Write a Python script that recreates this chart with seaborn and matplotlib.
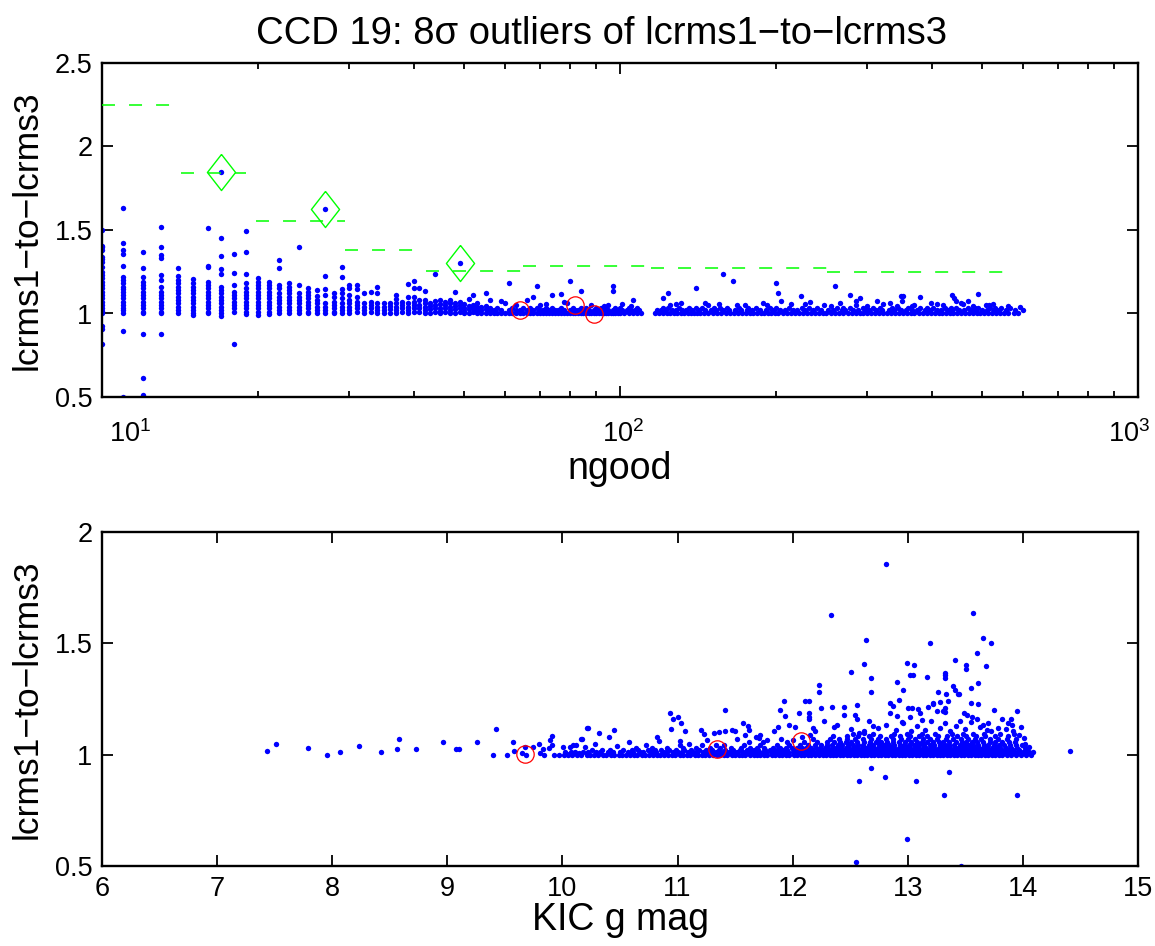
import matplotlib
matplotlib.use("Agg")
import matplotlib.pyplot as plt
import matplotlib.transforms as mtransforms
import numpy as np
import pandas as pd
import seaborn as sns
from matplotlib.ticker import FixedLocator, FixedFormatter, LogLocator, NullFormatter

# ---------------- upper panel: ratio against ngood ----------------
# discrete ngood columns (one list of ratios per ngood value)
col_ngood = list(range(10, 57))
col_ratio = [
    [1.50, 1.405, 1.397, 1.38, 1.34, 1.325, 1.31, 1.28, 1.25, 1.23, 1.21, 1.19, 1.17, 1.15, 1.13, 1.11, 1.09, 1.07, 1.05, 1.03, 1.015, 1.00, 0.925, 0.91, 0.815],
    [1.63, 1.42, 1.38, 1.355, 1.285, 1.22, 1.20, 1.18, 1.16, 1.145, 1.13, 1.11, 1.09, 1.07, 1.05, 1.035, 1.02, 1.005, 0.895, 0.50],
    [1.366, 1.27, 1.22, 1.19, 1.17, 1.15, 1.13, 1.11, 1.09, 1.07, 1.05, 1.03, 1.01, 1.00, 0.875, 0.616, 0.512],
    [1.516, 1.40, 1.35, 1.335, 1.23, 1.20, 1.16, 1.13, 1.11, 1.09, 1.07, 1.05, 1.03, 1.01, 1.00, 0.875],
    [1.27, 1.225, 1.20, 1.18, 1.16, 1.14, 1.12, 1.10, 1.08, 1.06, 1.04, 1.02, 1.00],
    [1.205, 1.18, 1.16, 1.14, 1.12, 1.10, 1.08, 1.06, 1.04, 1.02, 1.00, 0.99],
    [1.51, 1.285, 1.277, 1.19, 1.17, 1.15, 1.13, 1.11, 1.09, 1.07, 1.05, 1.03, 1.01, 1.00],
    [1.847, 1.45, 1.345, 1.265, 1.235, 1.16, 1.14, 1.12, 1.10, 1.08, 1.06, 1.04, 1.02, 1.00, 0.985],
    [1.354, 1.24, 1.17, 1.13, 1.11, 1.09, 1.07, 1.05, 1.03, 1.01, 0.815],
    [1.496, 1.366, 1.235, 1.18, 1.15, 1.13, 1.11, 1.09, 1.07, 1.05, 1.03, 1.01, 0.995],
    [1.21, 1.19, 1.17, 1.15, 1.13, 1.11, 1.09, 1.07, 1.05, 1.03, 1.01, 0.99],
    [1.19, 1.17, 1.15, 1.13, 1.11, 1.09, 1.07, 1.05, 1.03, 1.01, 0.995],
    [1.32, 1.273, 1.17, 1.15, 1.12, 1.10, 1.08, 1.06, 1.04, 1.02, 1.00],
    [1.18, 1.16, 1.14, 1.12, 1.10, 1.08, 1.06, 1.04, 1.02, 1.00],
    [1.40, 1.17, 1.12, 1.10, 1.08, 1.06, 1.04, 1.02, 1.00],
    [1.15, 1.13, 1.11, 1.09, 1.07, 1.05, 1.03, 1.01, 1.00],
    [1.14, 1.105, 1.08, 1.06, 1.04, 1.02, 1.00],
    [1.624, 1.227, 1.147, 1.11, 1.06, 1.04, 1.02, 1.00],
    [1.12, 1.10, 1.07, 1.05, 1.03, 1.01, 1.00],
    [1.277, 1.22, 1.145, 1.12, 1.09, 1.06, 1.04, 1.02, 1.00],
    [1.17, 1.15, 1.11, 1.08, 1.06, 1.04, 1.02, 1.00],
    [1.171, 1.145, 1.10, 1.07, 1.05, 1.03, 1.01],
    [1.12, 1.06, 1.04, 1.02, 1.00],
    [1.13, 1.07, 1.05, 1.03, 1.01],
    [1.157, 1.12, 1.06, 1.04, 1.02, 1.00],
    [1.06, 1.04, 1.02, 1.00],
    [1.065, 1.045, 1.025, 1.005],
    [1.11, 1.085, 1.06, 1.04, 1.02, 1.00],
    [1.07, 1.05, 1.03, 1.01],
    [1.177, 1.10, 1.06, 1.04, 1.02, 1.00],
    [1.195, 1.155, 1.10, 1.07, 1.05, 1.03, 1.01],
    [1.15, 1.08, 1.05, 1.03, 1.01],
    [1.137, 1.08, 1.06, 1.04, 1.02, 1.00],
    [1.065, 1.045, 1.025, 1.005],
    [1.237, 1.075, 1.05, 1.03, 1.01],
    [1.08, 1.055, 1.035, 1.015, 1.00],
    [1.07, 1.05, 1.03, 1.01],
    [1.08, 1.06, 1.04, 1.02, 1.00],
    [1.131, 1.065, 1.045, 1.025, 1.005],
    [1.305, 1.07, 1.05, 1.03, 1.01],
    [1.055, 1.035, 1.015, 1.00],
    [1.085, 1.045, 1.025, 1.005],
    [1.11, 1.05, 1.03, 1.01],
    [1.065, 1.04, 1.02, 1.00],
    [1.04, 1.02, 1.005],
    [1.121, 1.045, 1.025, 1.005],
    [1.08, 1.035, 1.015, 1.00],
]

# well-populated ngood range: stars sitting in three ratio layers
top_row_levels = [1.004, 1.019, 1.035]
top_row_ngood = [
    [57, 58, 59, 60, 61, 62, 63, 64, 65, 66, 67, 68, 69, 70, 71, 72, 73, 74, 75, 76, 77, 78, 79, 80,
     81, 82, 83, 84, 85, 86, 87, 88, 89, 90, 91, 92, 93, 94, 95, 96, 97, 98, 99, 100, 102, 104, 106,
     108, 110, 117, 119, 121, 123, 125, 127, 129, 131, 133, 135, 137, 139, 141, 143, 145, 148, 151,
     154, 157, 160, 163, 166, 169, 172, 175, 178, 181, 184, 187, 190, 193, 196, 199, 202, 206, 210,
     214, 218, 222, 226, 230, 234, 238, 242, 246, 250, 255, 260, 265, 270, 275, 280, 285, 290, 295,
     300, 305, 310, 316, 322, 328, 334, 340, 346, 352, 358, 364, 370, 377, 384, 391, 398, 405, 412,
     419, 426, 433, 440, 448, 456, 464, 472, 480, 488, 496, 505, 514, 523, 532, 541, 550, 562, 575,
     587],
    [57, 59, 61, 63, 64, 66, 68, 70, 71, 73, 75, 76, 78, 80, 82, 83, 85, 87, 89, 91, 93, 95, 97, 99,
     101, 103, 105, 107, 109, 118, 120, 122, 126, 128, 132, 134, 138, 142, 146, 150, 153, 158, 162,
     167, 171, 176, 180, 186, 191, 197, 204, 208, 216, 220, 228, 236, 244, 252, 258, 268, 272, 282,
     288, 298, 302, 312, 320, 330, 338, 348, 356, 366, 374, 388, 396, 410, 416, 430, 438, 452, 462,
     476, 486, 500, 510, 528, 538, 556, 580],
    [58, 62, 65, 67, 69, 72, 74, 77, 81, 84, 86, 90, 92, 94, 98, 100, 104, 108, 121, 124, 130, 136,
     140, 144, 152, 156, 161, 170, 177, 183, 195, 200, 212, 225, 232, 240, 262, 270, 278, 294, 308,
     318, 335, 344, 360, 380, 392, 402, 424, 436, 445, 470, 484, 492, 518, 530, 545, 566],
]

# individual stars above the main band
top_extra_ngood = [61, 69, 68, 66, 74, 77, 80, 84, 97, 97, 106, 121, 124, 140, 158, 165, 200, 202,
                   205, 224, 233, 260, 278, 285, 290, 314, 348, 352, 350, 380, 398, 437, 442, 446,
                   470, 490, 508, 59, 63, 72, 79, 88, 93, 101, 125, 131, 148, 155, 174, 189, 214,
                   248, 266, 300, 322, 342, 370, 410, 455, 480, 525, 560, 592, 600,
                   60, 70, 78, 95, 105, 128, 146, 168, 192, 228, 256, 286, 332, 366, 420, 460, 515]
top_extra_ratio = [1.181, 1.165, 1.10, 1.08, 1.111, 1.117, 1.197, 1.137, 1.167, 1.137, 1.081, 1.091,
                   1.125, 1.151, 1.235, 1.195, 1.18, 1.125, 1.077, 1.103, 1.071, 1.165, 1.111, 1.077,
                   1.093, 1.075, 1.103, 1.103, 1.077, 1.10, 1.065, 1.11, 1.093, 1.077, 1.073, 1.115,
                   1.05, 1.075, 1.05, 1.055, 1.06, 1.05, 1.045, 1.055, 1.05, 1.06, 1.048, 1.057,
                   1.05, 1.06, 1.057, 1.05, 1.06, 1.045, 1.055, 1.042, 1.05, 1.057, 1.06, 1.045,
                   1.055, 1.045, 1.04, 1.02,
                   1.065, 1.048, 1.07, 1.052, 1.046, 1.055, 1.062, 1.048, 1.05, 1.058, 1.047,
                   1.052, 1.06, 1.046, 1.05, 1.054, 1.048]

# 8-sigma outliers (diamonds) and highlighted stars (circles)
flag_ngood = [17, 27, 49]
flag_ratio = [1.847, 1.624, 1.305]
circ_top_ngood = [64, 82, 89]
circ_top_ratio = [1.021, 1.053, 0.995]

# outlier thresholds per ngood bin
thr_lo = [10, 14.2, 19.8, 29.5, 42.3, 64.9, 115, 251]
thr_hi = [13.6, 19.0, 29.5, 40.2, 64.4, 112.6, 251, 553]
thr_val = [2.25, 1.84, 1.555, 1.378, 1.255, 1.286, 1.27, 1.25]

# ---------------- lower panel: ratio against KIC g magnitude ----------------
bot_row_levels = [1.000, 1.010, 1.020, 1.031, 1.043, 1.056, 1.069, 1.082, 1.095]
bot_row_mag = [
    [9.97, 10.01, 10.05, 10.08, 10.13, 10.16, 10.21, 10.24, 10.27, 10.31, 10.35, 10.38, 10.42, 10.45,
     10.49, 10.52, 10.55, 10.59, 10.62, 10.65, 10.69, 10.72, 10.75, 10.79, 10.82, 10.85, 10.88, 10.92,
     10.95, 10.98, 11.02, 11.05, 11.08, 11.11, 11.15, 11.18, 11.21, 11.24, 11.27, 11.31, 11.34, 11.37,
     11.40, 11.43, 11.47, 11.50, 11.53, 11.56, 11.59, 11.63, 11.66, 11.69, 11.72, 11.75, 11.78, 11.82,
     11.85, 11.88, 11.91, 11.94, 11.97, 12.01, 12.04, 12.07, 12.10, 12.13, 12.16, 12.19, 12.23, 12.26,
     12.29, 12.32, 12.35, 12.38, 12.41, 12.44, 12.47, 12.50, 12.53, 12.56, 12.59, 12.62, 12.65, 12.68,
     12.71, 12.74, 12.77, 12.80, 12.83, 12.86, 12.89, 12.92, 12.95, 12.98, 13.01, 13.04, 13.07, 13.10,
     13.13, 13.16, 13.19, 13.22, 13.25, 13.28, 13.31, 13.34, 13.37, 13.40, 13.43, 13.46, 13.49, 13.52,
     13.55, 13.58, 13.61, 13.64, 13.67, 13.70, 13.73, 13.76, 13.79, 13.82, 13.86, 13.90, 13.94, 13.98,
     14.03, 14.07],
    [10.02, 10.07, 10.11, 10.18, 10.22, 10.29, 10.33, 10.40, 10.44, 10.50, 10.57, 10.61, 10.67, 10.70,
     10.77, 10.81, 10.87, 10.90, 10.96, 11.00, 11.04, 11.09, 11.13, 11.17, 11.22, 11.26, 11.29, 11.33,
     11.38, 11.42, 11.45, 11.49, 11.52, 11.57, 11.61, 11.64, 11.68, 11.71, 11.74, 11.77, 11.81, 11.84,
     11.87, 11.90, 11.93, 11.96, 12.00, 12.03, 12.06, 12.09, 12.12, 12.15, 12.18, 12.21, 12.24, 12.27,
     12.30, 12.33, 12.36, 12.39, 12.42, 12.45, 12.48, 12.51, 12.54, 12.57, 12.60, 12.63, 12.66, 12.69,
     12.72, 12.75, 12.78, 12.81, 12.84, 12.87, 12.90, 12.93, 12.96, 12.99, 13.02, 13.05, 13.08, 13.11,
     13.14, 13.17, 13.20, 13.23, 13.26, 13.29, 13.32, 13.35, 13.38, 13.41, 13.44, 13.47, 13.50, 13.53,
     13.56, 13.59, 13.62, 13.65, 13.68, 13.71, 13.74, 13.77, 13.81, 13.84, 13.88, 13.92, 13.96, 14.00,
     14.05, 14.09],
    [10.26, 10.34, 10.41, 10.53, 10.60, 10.66, 10.74, 10.80, 10.86, 10.93, 10.99, 11.06, 11.12, 11.19,
     11.25, 11.30, 11.36, 11.41, 11.48, 11.54, 11.60, 11.66, 11.70, 11.76, 11.80, 11.86, 11.92, 11.95,
     12.02, 12.05, 12.10, 12.14, 12.17, 12.22, 12.25, 12.29, 12.33, 12.37, 12.40, 12.44, 12.47, 12.51,
     12.55, 12.58, 12.62, 12.65, 12.69, 12.72, 12.76, 12.79, 12.83, 12.86, 12.90, 12.93, 12.97, 13.00,
     13.04, 13.07, 13.11, 13.14, 13.18, 13.21, 13.25, 13.28, 13.32, 13.35, 13.39, 13.42, 13.46, 13.49,
     13.53, 13.56, 13.60, 13.63, 13.67, 13.70, 13.74, 13.78, 13.82, 13.87, 13.91, 13.97, 14.03],
    [10.64, 10.78, 10.91, 11.05, 11.16, 11.28, 11.37, 11.46, 11.55, 11.63, 11.69, 11.75, 11.83, 11.89,
     11.94, 11.99, 12.04, 12.08, 12.12, 12.16, 12.20, 12.24, 12.28, 12.31, 12.35, 12.38, 12.42, 12.46,
     12.49, 12.53, 12.56, 12.60, 12.64, 12.67, 12.71, 12.74, 12.78, 12.81, 12.85, 12.88, 12.92, 12.95,
     12.99, 13.02, 13.06, 13.09, 13.13, 13.16, 13.20, 13.23, 13.27, 13.30, 13.34, 13.37, 13.41, 13.44,
     13.48, 13.51, 13.55, 13.58, 13.62, 13.65, 13.69, 13.73, 13.77, 13.80, 13.85, 13.90, 13.95, 14.02],
    [11.02, 11.21, 11.40, 11.58, 11.72, 11.86, 11.97, 12.06, 12.13, 12.19, 12.25, 12.30, 12.34, 12.39,
     12.43, 12.48, 12.52, 12.57, 12.61, 12.66, 12.70, 12.75, 12.79, 12.84, 12.88, 12.93, 12.97, 13.01,
     13.05, 13.10, 13.14, 13.19, 13.23, 13.28, 13.32, 13.36, 13.40, 13.45, 13.49, 13.53, 13.57, 13.61,
     13.66, 13.70, 13.75, 13.79, 13.84, 13.89, 13.94, 13.99],
    [11.74, 11.95, 12.10, 12.21, 12.30, 12.36, 12.41, 12.46, 12.51, 12.56, 12.62, 12.67, 12.72, 12.77,
     12.82, 12.87, 12.92, 12.98, 13.03, 13.08, 13.12, 13.17, 13.22, 13.27, 13.31, 13.36, 13.42, 13.47,
     13.51, 13.56, 13.60, 13.65, 13.71, 13.76, 13.82, 13.88, 13.93],
    [12.18, 12.32, 12.40, 12.47, 12.54, 12.61, 12.68, 12.74, 12.81, 12.87, 12.94, 13.00, 13.06, 13.13,
     13.19, 13.25, 13.33, 13.39, 13.46, 13.52, 13.58, 13.64, 13.71, 13.78, 13.86, 13.94],
    [12.35, 12.47, 12.57, 12.66, 12.76, 12.85, 12.93, 13.02, 13.10, 13.17, 13.26, 13.34, 13.43, 13.51,
     13.59, 13.67, 13.76, 13.87],
    [12.52, 12.70, 12.88, 12.99, 13.12, 13.24, 13.38, 13.48, 13.57, 13.66, 13.80, 13.92],
]

# individual stars: bright end, scatter above the band and low outliers
bot_extra_mag = [
    7.436, 7.509, 7.793, 7.952, 8.071, 8.233, 8.421, 8.578, 8.566, 8.728, 8.960, 9.073, 9.102, 9.258,
    9.40, 9.426, 9.519, 9.574, 9.58, 9.646, 9.675, 9.68, 9.74, 9.80, 9.805, 9.829, 9.887, 9.892, 9.91,
    9.907, 9.93, 9.84, 10.002, 10.037, 10.066, 10.095, 10.089, 10.147, 10.161, 10.196, 10.216, 10.216,
    10.22, 10.448, 10.32, 10.167, 10.407, 10.825, 10.935, 10.96, 11.0, 11.03, 10.94, 11.067, 11.2,
    11.233, 11.32, 11.363, 11.415, 11.415, 11.47, 11.5, 11.572, 11.614, 11.62, 11.59, 11.72, 11.71,
    11.841, 11.87, 11.891, 11.929, 11.93, 11.97, 12.02, 12.056, 12.11, 12.14, 12.14, 12.14, 12.14,
    12.18, 12.19, 12.226, 12.23, 12.336, 12.25, 12.27,
    12.814, 13.564, 12.64, 13.196, 13.65, 13.723, 13.605, 13.683, 13.414, 13.504, 13.51, 12.623,
    12.507, 12.681, 12.684, 12.997, 13.052, 13.023, 13.043, 13.163, 12.907, 12.959, 13.322, 13.322,
    13.325, 13.39, 13.41, 13.434, 13.445, 13.549, 13.61, 13.261, 13.333, 13.35, 12.846, 12.875,
    12.924, 13.22, 13.278, 13.25, 13.307, 13.549, 13.61, 13.747, 13.947, 14.013, 14.41, 12.34,
    12.448, 12.448, 12.555, 12.545, 12.56, 12.667, 12.36, 12.383, 12.505, 12.572, 12.62, 13.0,
    13.04, 13.087, 13.18, 13.22, 13.32, 13.32, 13.49, 13.512, 13.556, 13.6, 13.65, 13.686, 13.817,
    13.875, 13.904, 13.918, 12.846, 12.904, 12.962, 13.107, 13.121, 13.02,
    12.62, 12.74, 12.9, 13.03, 13.08, 13.15, 13.28, 13.37, 13.42, 13.5, 13.55, 13.63, 13.72, 13.78,
    13.85, 12.81, 12.95, 13.2, 13.45, 13.7, 13.32, 12.7, 13.97, 14.02, 14.05, 13.98, 13.9,
    10.12, 10.28, 10.47, 10.58, 10.73, 10.84, 11.02, 11.1, 11.26, 11.33, 11.52, 11.62, 11.78, 11.9,
    12.0, 12.08, 11.68, 12.15,
    12.681, 12.58, 12.8, 13.072, 13.359, 13.318, 13.952, 12.997, 12.553, 13.466,
]
bot_extra_ratio = [
    1.018, 1.047, 1.029, 1.000, 1.014, 1.039, 1.011, 1.072, 1.027, 1.024, 1.055, 1.024, 1.027, 1.055,
    1.000, 1.115, 1.000, 1.057, 1.018, 1.009, 1.036, 1.000, 1.036, 1.048, 1.009, 1.024, 1.031, 1.066,
    1.084, 1.044, 0.999, 0.999, 1.036, 1.002, 1.036, 1.009, 1.042, 1.009, 1.072, 1.036, 1.118, 1.009,
    1.121, 1.111, 1.096, 1.07, 1.081, 1.081, 1.186, 1.159, 1.17, 1.144, 1.115, 1.106, 1.111,
    1.093, 1.096, 1.103, 1.2, 1.106, 1.111, 1.108, 1.144, 1.129, 1.111, 1.09, 1.088, 1.073,
    1.106, 1.126, 1.2, 1.24, 1.174, 1.132, 1.123, 1.186, 1.24, 1.24, 1.186, 1.171, 1.159,
    1.118, 1.108, 1.312, 1.283, 1.629, 1.21, 1.151,
    1.855, 1.636, 1.515, 1.502, 1.522, 1.502, 1.457, 1.398, 1.425, 1.401, 1.385, 1.406,
    1.373, 1.344, 1.28, 1.412, 1.401, 1.356, 1.358, 1.35, 1.326, 1.29, 1.36, 1.346,
    1.368, 1.31, 1.29, 1.274, 1.274, 1.30, 1.32, 1.28, 1.274, 1.243, 1.234, 1.22,
    1.246, 1.227, 1.235, 1.198, 1.198, 1.231, 1.228, 1.201, 1.198, 1.073, 1.015, 1.216,
    1.216, 1.18, 1.223, 1.18, 1.159, 1.151, 1.126, 1.133, 1.114, 1.099, 1.099, 1.211,
    1.211, 1.207, 1.216, 1.23, 1.208, 1.193, 1.186, 1.178, 1.171, 1.16, 1.133, 1.111, 1.16,
    1.141, 1.133, 1.106, 1.186, 1.174, 1.144, 1.186, 1.156, 1.171,
    1.108, 1.12, 1.113, 1.105, 1.128, 1.112, 1.12, 1.108, 1.13, 1.115, 1.145, 1.125, 1.105, 1.12,
    1.115, 1.135, 1.145, 1.15, 1.152, 1.14, 1.14, 1.13, 1.09, 1.05, 1.035, 1.125, 1.16,
    1.045, 1.05, 1.04, 1.055, 1.045, 1.06, 1.06, 1.05, 1.065, 1.045, 1.07, 1.055, 1.065, 1.07,
    1.065, 1.08, 1.08, 1.09,
    0.94, 0.88, 0.90, 0.88, 0.921, 0.82, 0.82, 0.62, 0.52, 0.499,
]
circ_bot_mag = [9.675, 11.34, 12.076]
circ_bot_ratio = [1.003, 1.027, 1.06]

# ---------------- assemble tidy tables ----------------
top_x, top_y = [], []
for n, vals in zip(col_ngood, col_ratio):
    top_x += [n] * len(vals)
    top_y += vals
for lev, ns in zip(top_row_levels, top_row_ngood):
    top_x += ns
    top_y += [lev] * len(ns)
top_x += top_extra_ngood
top_y += top_extra_ratio
top_df = pd.DataFrame({"ngood": top_x, "ratio": top_y})

bot_x, bot_y = [], []
for lev, ms in zip(bot_row_levels, bot_row_mag):
    bot_x += ms
    bot_y += [lev] * len(ms)
bot_x += bot_extra_mag
bot_y += bot_extra_ratio
bot_df = pd.DataFrame({"mag": bot_x, "ratio": bot_y})

# ---------------- styling ----------------
sns.set_style("ticks")
plt.rcParams["font.family"] = ["Liberation Sans", "DejaVu Sans"]
plt.rcParams["mathtext.fontset"] = "custom"
plt.rcParams["mathtext.rm"] = "Liberation Sans"
plt.rcParams["mathtext.it"] = "Liberation Sans:italic"
plt.rcParams["axes.unicode_minus"] = True
for key in ("text.color", "axes.labelcolor", "xtick.color", "ytick.color", "axes.edgecolor"):
    plt.rcParams[key] = "black"

BLUE = (0, 0, 1)
GREEN = (0, 1, 0)
RED = (1, 0, 0)
TICK_FS = 19.5
LABEL_FS = 27

fig = plt.figure(figsize=(11.55, 9.46), dpi=100)
ax1 = fig.add_axes([102 / 1155, 1 - 397 / 946, 1036 / 1155, 334 / 946])
ax2 = fig.add_axes([102 / 1155, 1 - 866 / 946, 1036 / 1155, 334 / 946])


def frame(ax):
    for sp in ax.spines.values():
        sp.set_visible(True)
        sp.set_linewidth(1.7)
        sp.set_color("black")
    ax.tick_params(which="both", direction="in", top=True, right=True,
                   labelsize=TICK_FS, width=1.3, colors="black", pad=7)
    ax.tick_params(which="major", length=8)
    ax.tick_params(which="minor", length=4.5)
    ax.set_facecolor("white")


# upper panel
sns.scatterplot(data=top_df, x="ngood", y="ratio", ax=ax1, color=BLUE, s=15,
                linewidth=0, legend=False, zorder=2)
diamond = [(0, 1), (0.78, 0), (0, -1), (-0.78, 0), (0, 1)]
for lo, hi, v in zip(thr_lo, thr_hi, thr_val):
    ax1.plot([lo, hi], [v, v], color=GREEN, lw=1.1, dashes=(8.5, 9.2), zorder=3)
ax1.plot(flag_ngood, flag_ratio, linestyle="none", marker=diamond, markersize=26,
         markerfacecolor="none", markeredgecolor=GREEN, markeredgewidth=1.0, zorder=4)
ax1.plot(circ_top_ngood, circ_top_ratio, linestyle="none", marker="o", markersize=12.5,
         markerfacecolor="none", markeredgecolor=RED, markeredgewidth=0.9, zorder=5)
ax1.set_xscale("log")
ax1.set_xlim(10, 1000)
ax1.set_ylim(0.5, 2.5)
ax1.xaxis.set_major_locator(FixedLocator([10, 100, 1000]))
ax1.xaxis.set_major_formatter(FixedFormatter([r"$\mathregular{10^{1}}$",
                                              r"$\mathregular{10^{2}}$",
                                              r"$\mathregular{10^{3}}$"]))
ax1.xaxis.set_minor_locator(LogLocator(base=10, subs=np.arange(2, 10)))
ax1.xaxis.set_minor_formatter(NullFormatter())
ax1.yaxis.set_major_locator(FixedLocator([0.5, 1, 1.5, 2, 2.5]))
ax1.yaxis.set_major_formatter(FixedFormatter(["0.5", "1", "1.5", "2", "2.5"]))
frame(ax1)
ax1.tick_params(axis="x", which="major", pad=17)
# decade labels sit slightly off their ticks, nudged horizontally (pixels)
for lbl, dx in zip(ax1.get_xticklabels(), [28, 3, -9]):
    lbl.set_transform(lbl.get_transform() +
                      mtransforms.ScaledTranslation(dx / 100, 0, fig.dpi_scale_trans))
ax1.set_xlabel("ngood", fontsize=LABEL_FS, labelpad=2)
ax1.set_ylabel("lcrms1\u2212to\u2212lcrms3", fontsize=25.5, labelpad=8)
ax1.set_title("CCD 19: 8\u03c3 outliers of lcrms1\u2212to\u2212lcrms3", fontsize=27.5, pad=14,
              x=0.482)

# lower panel
sns.scatterplot(data=bot_df, x="mag", y="ratio", ax=ax2, color=BLUE, s=15,
                linewidth=0, legend=False, zorder=2)
ax2.plot(circ_bot_mag, circ_bot_ratio, linestyle="none", marker="o", markersize=12.5,
         markerfacecolor="none", markeredgecolor=RED, markeredgewidth=0.9, zorder=5)
ax2.set_xlim(6, 15)
ax2.set_ylim(0.5, 2)
ax2.xaxis.set_major_locator(FixedLocator(list(range(6, 16))))
ax2.xaxis.set_major_formatter(FixedFormatter([str(v) for v in range(6, 16)]))
ax2.yaxis.set_major_locator(FixedLocator([0.5, 1, 1.5, 2]))
ax2.yaxis.set_major_formatter(FixedFormatter(["0.5", "1", "1.5", "2"]))
frame(ax2)
ax2.set_xlabel("KIC g mag", fontsize=LABEL_FS, labelpad=0)
ax2.set_ylabel("lcrms1\u2212to\u2212lcrms3", fontsize=25.5, labelpad=8)

fig.savefig("out.png", dpi=100, facecolor="white")
